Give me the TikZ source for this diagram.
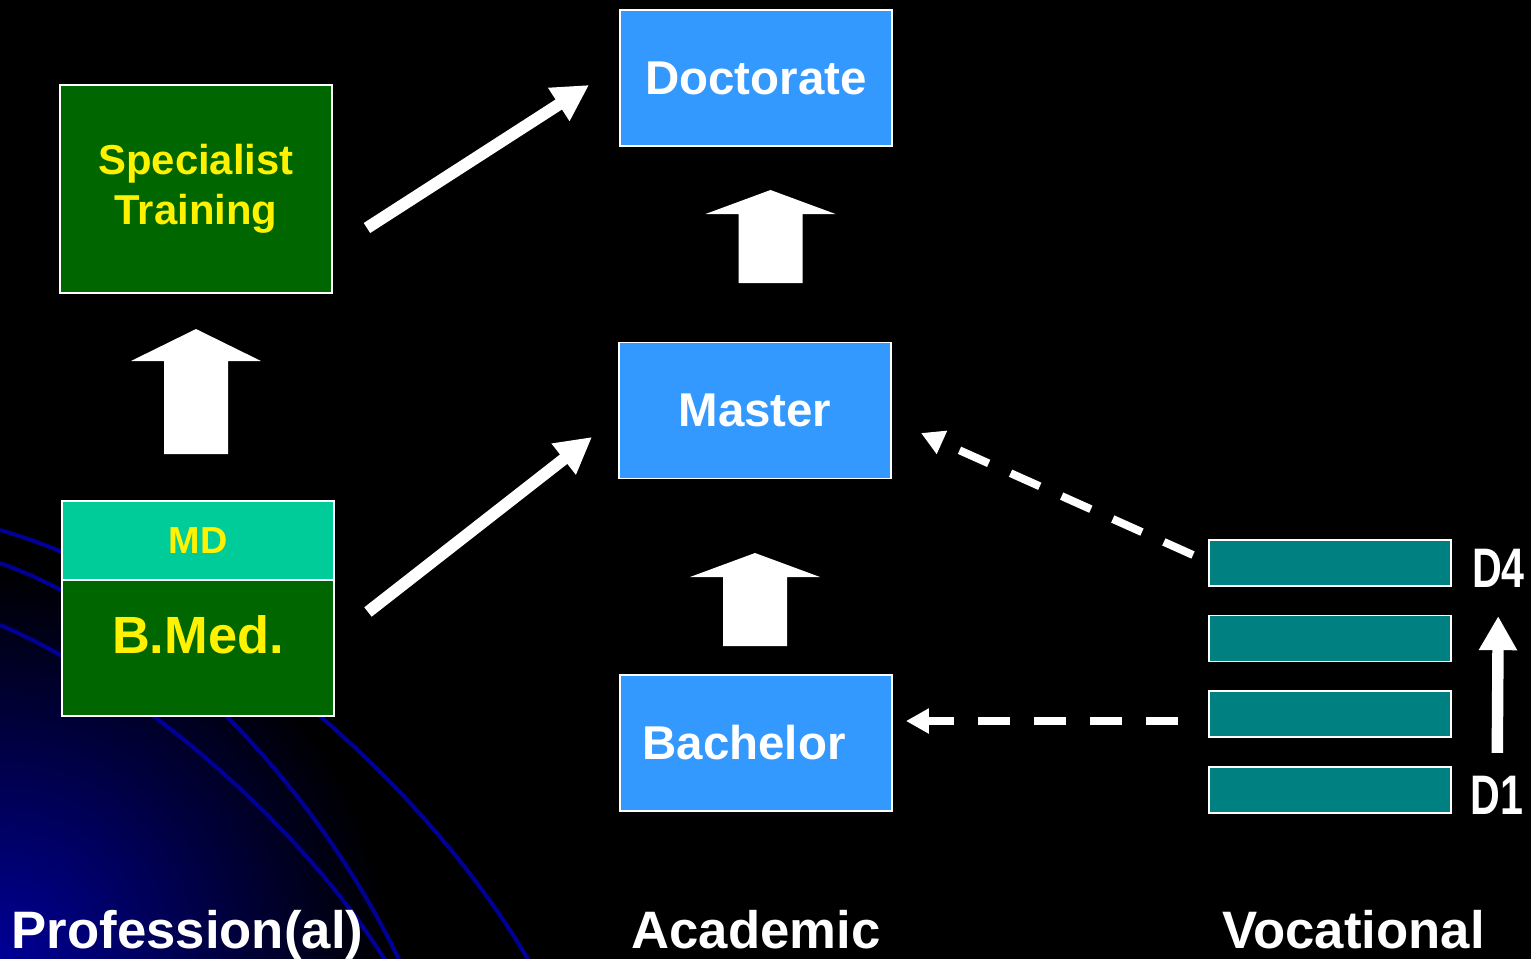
\documentclass[tikz,border=0pt]{standalone}
\usepackage{fontspec}
\setmainfont{Liberation Sans}
\usepackage{tikz}
\usetikzlibrary{positioning,arrows.meta}

\definecolor{acblue}{RGB}{51,153,255}
\definecolor{prgreen}{RGB}{0,102,0}
\definecolor{mdgreen}{RGB}{0,204,153}
\definecolor{vteal}{RGB}{0,128,128}
\definecolor{bgnavy}{RGB}{0,0,150}
\definecolor{arcblue}{RGB}{0,0,150}

\begin{document}
\begin{tikzpicture}
  [x=0.02cm,y=-0.02cm,
   every node/.style={font=\bfseries,inner sep=0pt,outer sep=0pt},
   box/.style={draw=white,line width=0.9pt,minimum width=5.44cm,minimum height=2.72cm},
   acbox/.style={box,fill=acblue,text=white,font=\bfseries\fontsize{27}{32}\selectfont},
   prbox/.style={box,fill=prgreen,text=yellow},
   bar/.style={draw=white,line width=0.9pt,fill=vteal,minimum width=4.84cm,minimum height=0.92cm},
   dlabel/.style={text=white,font=\bfseries\fontsize{31.7}{38}\selectfont},
   colname/.style={text=white,anchor=base,font=\bfseries\fontsize{30}{36}\selectfont},
   bigarrow/.style={draw=white,line width=6.8pt,-{Triangle[length=0.72cm,width=0.74cm]}},
   dasharrow/.style={draw=white,line width=4.5pt,dash pattern=on 0.64cm off 0.48cm,-{Triangle[length=0.46cm,width=0.48cm]}}]

  \useasboundingbox (0,0) rectangle (1531,958);
  \fill[black] (-10,-10) rectangle (1541,968);
  \begin{scope}
    \clip (-10,-10) rectangle (1541,968);
    \shade[inner color=bgnavy,outer color=black] (0,958) circle (7.8cm);
    \draw[arcblue,line width=2.3pt] (0,530) .. controls (190,585) and (420,770) .. (533,968);
    \draw[arcblue,line width=2.3pt] (0,563) .. controls (160,620) and (320,790) .. (403,968);
    \draw[arcblue,line width=2.3pt] (0,625) .. controls (130,680) and (300,820) .. (390,968);
  \end{scope}

  \node[acbox] (doc) at (756,78) {Doctorate};
  \node[acbox] (master) at (755,410.5) {Master};
  \node[acbox] (bach) at (756,743) {\kern-0.48cm Bachelor};

  \node[prbox,minimum height=4.16cm,align=center,font=\bfseries\fontsize{23.8}{28.3}\selectfont] (spec) at (196,189) {Specialist\\Training};
  \node[box,fill=mdgreen,minimum height=1.58cm,text=yellow,font=\bfseries\fontsize{21.5}{26}\selectfont] (md) at (198,540.5) {MD};
  \node[prbox,below=0pt of md,text height=0.76cm,text depth=0.52cm,font=\bfseries\fontsize{29.8}{36}\selectfont] (bmed) {B.Med.};

  \foreach \i/\y in {1/790,2/714,3/638.5,4/563}
    \node[bar] (bar\i) at (1330,\y) {};
  \node[dlabel] (dfour) at (1498.5,568) {\scalebox{0.74}[1]{D4}};
  \node[dlabel] (done) at (1497,795) {\scalebox{0.74}[1]{D1}};

  \foreach \x/\t/\h/\b in {196/329/32/454,770.5/190/24/283,755/553/24/646}
    \fill[white] (\x-32,\b) -- (\x-32,\t+\h) -- (\x-65,\t+\h) -- (\x,\t) -- (\x+65,\t+\h) -- (\x+32,\t+\h) -- (\x+32,\b) -- cycle;

  \draw[bigarrow] ([shift={(35,39)}]spec.east) -- ([shift={(-31,7)}]doc.west);
  \draw[bigarrow] ([shift={(34,-36)}]bmed.east) -- ([shift={(-27,26.5)}]master.west);
  \draw[dasharrow] ([shift={(-16,-8)}]bar4.west) -- ([shift={(30,22.5)}]master.east);
  \draw[dasharrow] ([shift={(-31,7)}]bar2.west) -- ([shift={(14,-22)}]bach.east);
  \draw[white,line width=6.5pt,-{Triangle[length=0.68cm,width=0.72cm]},shorten <=0.46cm,shorten >=0.58cm] (done) -- (dfour);

  \node[colname] (prof) at (187.5,948) {Profession(al)};
  \node[colname] (acad) at (756,948) {Academic};
  \node[colname] (voc) at (1353.5,948) {Vocational};

\end{tikzpicture}
\end{document}
